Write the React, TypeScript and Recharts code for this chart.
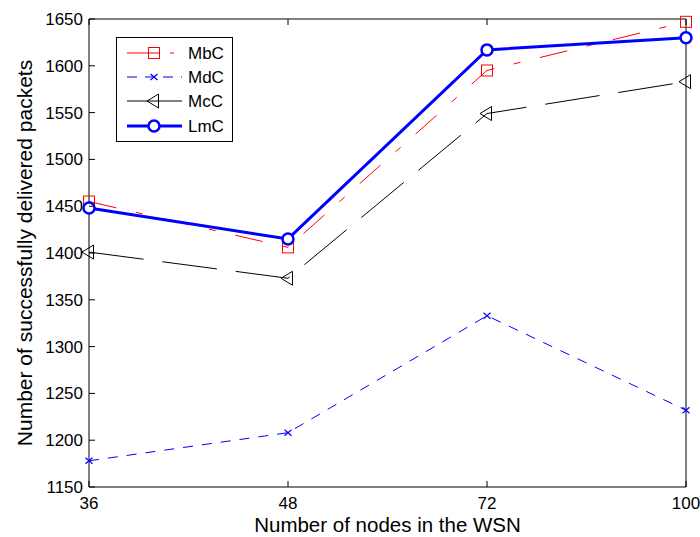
import { LineChart, Line, XAxis, YAxis, Label } from "recharts";

// Delivered packets vs. WSN size, four schemes (MbC / MdC / McC / LmC)

const nodes = ["36", "48", "72", "100"];
const mbc = [1455, 1406, 1595, 1647];
const mdc = [1178, 1208, 1333, 1232];
const mcc = [1401, 1373, 1549, 1583];
const lmc = [1448, 1415, 1617, 1630];
const yTicks = [1150, 1200, 1250, 1300, 1350, 1400, 1450, 1500, 1550, 1600, 1650];

const data = nodes.map((n, i) => ({
  nodes: n,
  mbc: mbc[i],
  mdc: mdc[i],
  mcc: mcc[i],
  lmc: lmc[i],
}));

const FONT = '"Liberation Sans", Arial, Helvetica, sans-serif';
const RED = "#ff0000";
const BLUE = "#0000ff";

type MarkerKind = "square" | "cross" | "triangle" | "circle";

function Marker({ kind, cx, cy }: { kind: MarkerKind; cx: number; cy: number }) {
  if (kind === "square")
    return <rect x={cx - 5.5} y={cy - 5.5} width={11} height={11} fill="none" stroke={RED} strokeWidth={1} />;
  if (kind === "cross")
    return (
      <g stroke={BLUE} strokeWidth={1.2}>
        <line x1={cx - 3.5} y1={cy - 3} x2={cx + 3.5} y2={cy + 3} />
        <line x1={cx - 3.5} y1={cy + 3} x2={cx + 3.5} y2={cy - 3} />
      </g>
    );
  if (kind === "triangle")
    return (
      <polygon
        points={`${cx - 7},${cy} ${cx + 4.5},${cy - 7} ${cx + 4.5},${cy + 7}`}
        fill="none"
        stroke="#000"
        strokeWidth={1}
      />
    );
  return <circle cx={cx} cy={cy} r={5.5} fill="#fff" stroke={BLUE} strokeWidth={2.5} />;
}

const dotOf = (kind: MarkerKind) => (p: any) =>
  <Marker key={`${kind}-${p.index}`} kind={kind} cx={p.cx} cy={p.cy} />;

const series = [
  { key: "mbc", name: "MbC", color: RED, width: 1, dash: "28 20 7 20", kind: "square" as MarkerKind },
  { key: "mdc", name: "MdC", color: BLUE, width: 1, dash: "10 9", kind: "cross" as MarkerKind },
  { key: "mcc", name: "McC", color: "#000", width: 1, dash: "55 19", kind: "triangle" as MarkerKind },
  { key: "lmc", name: "LmC", color: BLUE, width: 3, dash: undefined, kind: "circle" as MarkerKind },
];

const LeftTick = (p: any) => (
  <g>
    <line x1={p.x + 6} y1={p.y} x2={p.x + 12} y2={p.y} stroke="#000" />
    <text x={p.x} y={p.y + 6} textAnchor="end" fontSize={17} fontFamily={FONT} fill="#000">
      {p.payload.value}
    </text>
  </g>
);

const BottomTick = (p: any) => (
  <g>
    <line x1={p.x} y1={p.y - 8} x2={p.x} y2={p.y - 14} stroke="#000" />
    <text x={p.x} y={p.y + 14} textAnchor="middle" fontSize={17} fontFamily={FONT} fill="#000">
      {p.payload.value}
    </text>
  </g>
);

const RightTick = (p: any) => <line x1={p.x} y1={p.y} x2={p.x - 6} y2={p.y} stroke="#000" />;
const TopTick = (p: any) => <line x1={p.x} y1={p.y} x2={p.x} y2={p.y + 6} stroke="#000" />;

function LegendBox() {
  const rows = [16, 40, 64, 89];
  return (
    <svg
      width={117}
      height={105}
      style={{ position: "absolute", left: 116, top: 37 }}
    >
      <rect x={0.5} y={0.5} width={116} height={104} fill="#fff" stroke="#000" />
      {series.map((s, i) => (
        <g key={s.key}>
          <line
            x1={11}
            y1={rows[i]}
            x2={66}
            y2={rows[i]}
            stroke={s.color}
            strokeWidth={s.width}
            strokeDasharray={s.key === "mbc" ? "33 10 4 20" : s.key === "mdc" ? "10 8" : undefined}
          />
          <Marker kind={s.kind} cx={38} cy={rows[i]} />
          <text x={72} y={rows[i] + 6} fontSize={17} fontFamily={FONT} fill="#000">
            {s.name}
          </text>
        </g>
      ))}
    </svg>
  );
}

export default function App() {
  return (
    <div style={{ position: "absolute", left: 0, top: 0, width: 700, height: 537, background: "#fff" }}>
      <LineChart width={700} height={537} data={data} margin={{ top: 18, right: 13, left: 0, bottom: 0 }}>
        <XAxis
          dataKey="nodes"
          height={50}
          interval={0}
          tickSize={0}
          tickMargin={8}
          tickLine={false}
          axisLine={{ stroke: "#000" }}
          tick={BottomTick}
        >
          <Label
            content={({ viewBox }: any) => (
              <text
                x={viewBox.x + viewBox.width / 2}
                y={viewBox.y + 45}
                textAnchor="middle"
                fontSize={20.5}
                fontFamily={FONT}
                fill="#000"
              >
                Number of nodes in the WSN
              </text>
            )}
          />
        </XAxis>
        <XAxis
          xAxisId="top"
          orientation="top"
          dataKey="nodes"
          height={1}
          interval={0}
          tickSize={0}
          tickMargin={0}
          tickLine={false}
          axisLine={{ stroke: "#000" }}
          tick={TopTick}
        />
        <YAxis
          width={89}
          domain={[1150, 1650]}
          ticks={yTicks}
          interval={0}
          tickSize={0}
          tickMargin={6}
          tickLine={false}
          axisLine={{ stroke: "#000" }}
          tick={LeftTick}
        >
          <Label
            content={({ viewBox }: any) => {
              const x = viewBox.x + 32;
              const y = viewBox.y + viewBox.height / 2;
              return (
                <text
                  x={x}
                  y={y}
                  transform={`rotate(-90 ${x} ${y})`}
                  textAnchor="middle"
                  fontSize={21}
                  fontFamily={FONT}
                  fill="#000"
                >
                  Number of successfully delivered packets
                </text>
              );
            }}
          />
        </YAxis>
        <YAxis
          yAxisId="right"
          orientation="right"
          width={1}
          domain={[1150, 1650]}
          ticks={yTicks}
          interval={0}
          tickSize={0}
          tickMargin={0}
          tickLine={false}
          axisLine={{ stroke: "#000" }}
          tick={RightTick}
        />
        {series.map((s) => (
          <Line
            key={s.key}
            dataKey={s.key}
            name={s.name}
            type="linear"
            stroke={s.color}
            strokeWidth={s.width}
            strokeDasharray={s.dash}
            dot={dotOf(s.kind)}
            activeDot={false}
            isAnimationActive={false}
          />
        ))}
      </LineChart>
      <LegendBox />
    </div>
  );
}
